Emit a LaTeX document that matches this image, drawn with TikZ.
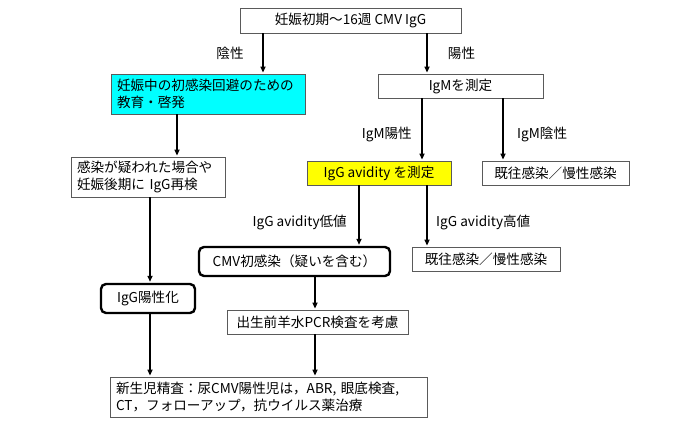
\documentclass[tikz,border=0pt]{standalone}
\usepackage{fontspec}
\setmainfont{Noto Sans CJK JP}
\usetikzlibrary{arrows.meta}
\newcommand\fsz{\fontsize{13.6}{17}\selectfont}
\definecolor{boxgray}{RGB}{90,90,90}
\definecolor{cyanfill}{RGB}{0,255,255}
\definecolor{yellowfill}{RGB}{255,255,0}
\begin{document}
\begin{tikzpicture}[x=1pt,y=-1pt,
  box/.style={draw=boxgray, line width=0.8pt, inner sep=0pt, font=\fsz, fill=white},
  tbox/.style={draw=black, line width=2.4pt, rounded corners=5pt, inner sep=0pt, font=\fsz, fill=white},
  lbl/.style={inner sep=0pt, font=\fsz},
  arr/.style={-{Triangle[length=6pt,width=5pt]}, line width=1.5pt, black, shorten >=1pt}
]
\useasboundingbox[fill=white] (0,0) rectangle (700,430);

% boxes
\node[box, minimum width=221, minimum height=25] (top) at (350.5,20.5) {妊娠初期〜16週 CMV IgG};
\node[box, fill=cyanfill, minimum width=194, minimum height=40, text width=182, align=left] (edu) at (208,94) {妊娠中の初感染回避のための\\教育・啓発};
\node[box, minimum width=154, minimum height=40, text width=142, align=left] (recheck) at (148,177) {感染が疑われた場合や\\妊娠後期に IgG再検};
\node[tbox, minimum width=94, minimum height=29] (igpos) at (148,298.5) {IgG陽性化};
\node[box, minimum width=317, minimum height=40, text width=305, align=left] (neo) at (268.5,397) {新生児精査：尿CMV陽性児は，ABR, 眼底検査,\\CT，フォローアップ，抗ウイルス薬治療};
\node[box, minimum width=165, minimum height=24] (igm) at (460.5,86) {IgMを測定};
\node[box, fill=yellowfill, minimum width=144, minimum height=24] (avid) at (379,173) {IgG avidity を測定};
\node[box, minimum width=147, minimum height=24] (past1) at (555.5,173) {既往感染／慢性感染};
\node[tbox, minimum width=191, minimum height=29] (cmv) at (294.5,261.5) {CMV初感染（疑いを含む）};
\node[box, minimum width=148, minimum height=24] (past2) at (486,259) {既往感染／慢性感染};
\node[box, minimum width=181, minimum height=24] (pcr) at (317.5,322) {出生前羊水PCR検査を考慮};

% x positions of connectors
\coordinate (xa) at (263,0);
\coordinate (xb) at (427,0);
\coordinate (xc) at (177,0);
\coordinate (xd) at (150,0);
\coordinate (xe) at (422,0);
\coordinate (xf) at (503,0);
\coordinate (xg) at (359,0);
\coordinate (xh) at (315,0);

% connectors
\draw[arr] (top.south -| xa) -- (edu.north -| xa);
\draw[arr] (top.south -| xb) -- (igm.north -| xb);
\draw[arr] (edu.south -| xc) -- (recheck.north -| xc);
\draw[arr] (recheck.south -| xd) -- (igpos.north -| xd);
\draw[arr] (igpos.south -| xd) -- (neo.north -| xd);
\draw[arr] (igm.south -| xe) -- (avid.north -| xe);
\draw[arr] (igm.south -| xf) -- (past1.north -| xf);
\draw[arr] (avid.south -| xg) -- (cmv.north -| xg);
\draw[arr] (avid.south -| xb) -- (past2.north -| xb);
\draw[arr] (cmv.south -| xh) -- (pcr.north -| xh);
\draw[arr] (pcr.south -| xh) -- (neo.north -| xh);

% labels
\node[lbl] (lneg) at (230,53) {陰性};
\node[lbl] (lpos) at (461.5,53) {陽性};
\node[lbl, anchor=east] (lmpos) at (412,134) {IgM陽性};
\node[lbl, anchor=west] (lmneg) at (517,134) {IgM陰性};
\node[lbl, anchor=east] (llow) at (347,222) {IgG avidity低値};
\node[lbl, anchor=west] (lhigh) at (436,222) {IgG avidity高値};
\end{tikzpicture}
\end{document}
